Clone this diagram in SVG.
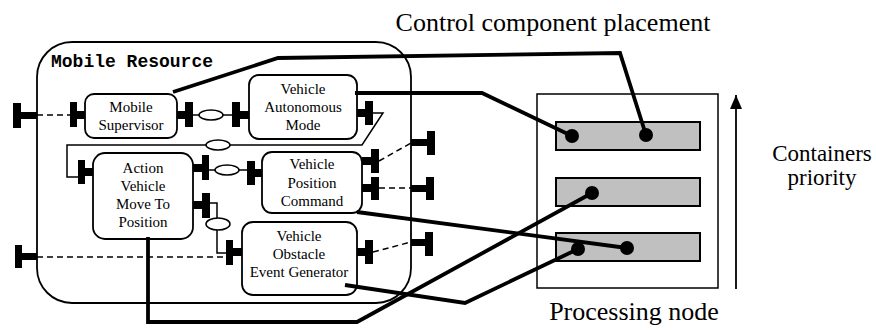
<svg xmlns="http://www.w3.org/2000/svg" width="876" height="331" viewBox="0 0 876 331">
<defs>
<style>
.box{fill:#fff;stroke:#000;stroke-width:1.8}
.t{font-family:"Liberation Serif","Times New Roman",serif;font-size:15px;text-anchor:middle;fill:#000}
.big{font-family:"Liberation Serif","Times New Roman",serif;font-size:26px;text-anchor:middle;fill:#000}
.side{font-family:"Liberation Serif","Times New Roman",serif;font-size:23px;text-anchor:middle;fill:#000}
.title{font-family:"Liberation Mono","Courier New",monospace;font-size:18px;font-weight:bold;fill:#000}
.port{fill:#000}
.thin{fill:none;stroke:#000;stroke-width:1.5}
.dash{fill:none;stroke:#000;stroke-width:1.5;stroke-dasharray:6 4}
.thick{fill:none;stroke:#000;stroke-width:3.8;stroke-linejoin:miter}
.ell{fill:#fff;stroke:#000;stroke-width:1.5}
.cont{fill:#c0c0c0;stroke:#000;stroke-width:2}
.dot{fill:#000}
</style>
<marker id="arr" markerWidth="16" markerHeight="12" refX="14" refY="6" orient="auto" markerUnits="userSpaceOnUse">
<path d="M0,0 L14,6 L0,12 Z" fill="#000"/>
</marker>
</defs>
<rect width="876" height="331" fill="#fff"/>

<g id="mobile-resource">
<rect x="37" y="42" width="374" height="261" rx="35" ry="35" fill="none" stroke="#000" stroke-width="1.8"/>
<text class="title" x="51" y="67">Mobile Resource</text>
</g>

<g id="processing-node">
<rect x="537" y="94" width="181" height="194" fill="#fff" stroke="#000" stroke-width="1.5"/>
<rect class="cont" x="556" y="122" width="144" height="28"/>
<rect class="cont" x="556" y="178" width="144" height="28"/>
<rect class="cont" x="556" y="233" width="144" height="28"/>
<text class="big" x="634" y="320">Processing node</text>
</g>

<g id="priority">
<line x1="736" y1="289" x2="736" y2="95" stroke="#000" stroke-width="1.8" marker-end="url(#arr)"/>
<text class="side" x="822" y="161">Containers</text>
<text class="side" x="822" y="185">priority</text>
</g>

<text id="placement-label" class="big" x="553" y="31">Control component placement</text>

<g id="connectors">
<line class="dash" x1="37" y1="115" x2="70" y2="115"/>
<line class="thin" x1="193" y1="115" x2="232" y2="115"/>
<ellipse class="ell" cx="211" cy="115" rx="12" ry="5"/>
<line class="thin" x1="209" y1="170" x2="247" y2="170"/>
<ellipse class="ell" cx="227" cy="170" rx="12" ry="5"/>
<path class="thin" d="M78,177 L67,177 L67,145 L362,145 L383,113 L373,113"/>
<ellipse class="ell" cx="218" cy="145" rx="12" ry="5"/>
<path class="thin" d="M210,203 L217,203 L217,253 L226,253"/>
<ellipse class="ell" cx="218" cy="224" rx="12" ry="6"/>
<line class="dash" x1="379" y1="161" x2="411" y2="143"/>
<line class="dash" x1="379" y1="188" x2="411" y2="188"/>
<line class="dash" x1="37" y1="257" x2="226" y2="257"/>
<line class="dash" x1="373" y1="252" x2="411" y2="242"/>
</g>

<g id="mobile-supervisor">
<rect class="box" x="85" y="94" width="92" height="44" rx="9"/>
<text class="t" x="131" y="112">Mobile</text>
<text class="t" x="131" y="130">Supervisor</text>
</g>
<g id="vehicle-autonomous-mode">
<rect class="box" x="249" y="75" width="108" height="64" rx="10"/>
<text class="t" x="303" y="94">Vehicle</text>
<text class="t" x="303" y="112">Autonomous</text>
<text class="t" x="303" y="130">Mode</text>
</g>
<g id="action-vehicle-move-to-position">
<rect class="box" x="93" y="153" width="100" height="86" rx="12"/>
<text class="t" x="143" y="173">Action</text>
<text class="t" x="143" y="191">Vehicle</text>
<text class="t" x="143" y="209">Move To</text>
<text class="t" x="143" y="227">Position</text>
</g>
<g id="vehicle-position-command">
<rect class="box" x="262" y="152" width="100" height="61" rx="10"/>
<text class="t" x="312" y="169">Vehicle</text>
<text class="t" x="312" y="188">Position</text>
<text class="t" x="312" y="206">Command</text>
</g>
<g id="vehicle-obstacle-event-generator">
<rect class="box" x="242" y="222" width="115" height="73" rx="11"/>
<text class="t" x="299" y="241">Vehicle</text>
<text class="t" x="299" y="259">Obstacle</text>
<text class="t" x="299" y="277">Event Generator</text>
</g>

<g id="ports">
<rect class="port" x="13" y="103" width="8" height="25"/><rect class="port" x="21" y="112" width="16" height="7"/>
<rect class="port" x="70" y="102" width="7" height="25"/><rect class="port" x="77" y="111" width="8" height="8"/>
<rect class="port" x="177" y="111" width="8" height="8"/><rect class="port" x="185" y="102" width="8" height="25"/>
<rect class="port" x="232" y="102" width="8" height="25"/><rect class="port" x="240" y="111" width="9" height="8"/>
<rect class="port" x="357" y="109" width="8" height="8"/><rect class="port" x="365" y="101" width="8" height="24"/>
<rect class="port" x="78" y="160" width="7" height="24"/><rect class="port" x="85" y="168" width="8" height="8"/>
<rect class="port" x="193" y="164" width="9" height="8"/><rect class="port" x="202" y="155" width="7" height="25"/>
<rect class="port" x="247" y="161" width="8" height="24"/><rect class="port" x="255" y="169" width="7" height="8"/>
<rect class="port" x="362" y="157" width="9" height="8"/><rect class="port" x="371" y="149" width="8" height="24"/>
<rect class="port" x="411" y="139" width="16" height="7"/><rect class="port" x="427" y="131" width="8" height="24"/>
<rect class="port" x="362" y="184" width="9" height="8"/><rect class="port" x="371" y="177" width="8" height="23"/>
<rect class="port" x="411" y="185" width="15" height="7"/><rect class="port" x="426" y="177" width="8" height="23"/>
<rect class="port" x="193" y="201" width="9" height="8"/><rect class="port" x="202" y="193" width="8" height="25"/>
<rect class="port" x="226" y="240" width="7" height="25"/><rect class="port" x="233" y="248" width="9" height="8"/>
<rect class="port" x="15" y="245" width="7" height="23"/><rect class="port" x="22" y="253" width="15" height="7"/>
<rect class="port" x="357" y="248" width="8" height="8"/><rect class="port" x="365" y="240" width="8" height="24"/>
<rect class="port" x="411" y="239" width="14" height="7"/><rect class="port" x="425" y="232" width="8" height="24"/>
</g>

<g id="placement-connectors">
<path class="thick" d="M173,92 L278,58 L620,53 L646,135"/>
<path class="thick" d="M355,93 L482,93 L572,136"/>
<path class="thick" d="M357,212 L627,248"/>
<path class="thick" d="M345,285 L465,303 L578,249"/>
<path class="thick" d="M148,237 L148,322 L357,322 L592,193"/>
<circle class="dot" cx="572" cy="136" r="7"/>
<circle class="dot" cx="646" cy="135" r="7"/>
<circle class="dot" cx="592" cy="193" r="7"/>
<circle class="dot" cx="578" cy="249" r="7"/>
<circle class="dot" cx="627" cy="248" r="7"/>
</g>
</svg>
